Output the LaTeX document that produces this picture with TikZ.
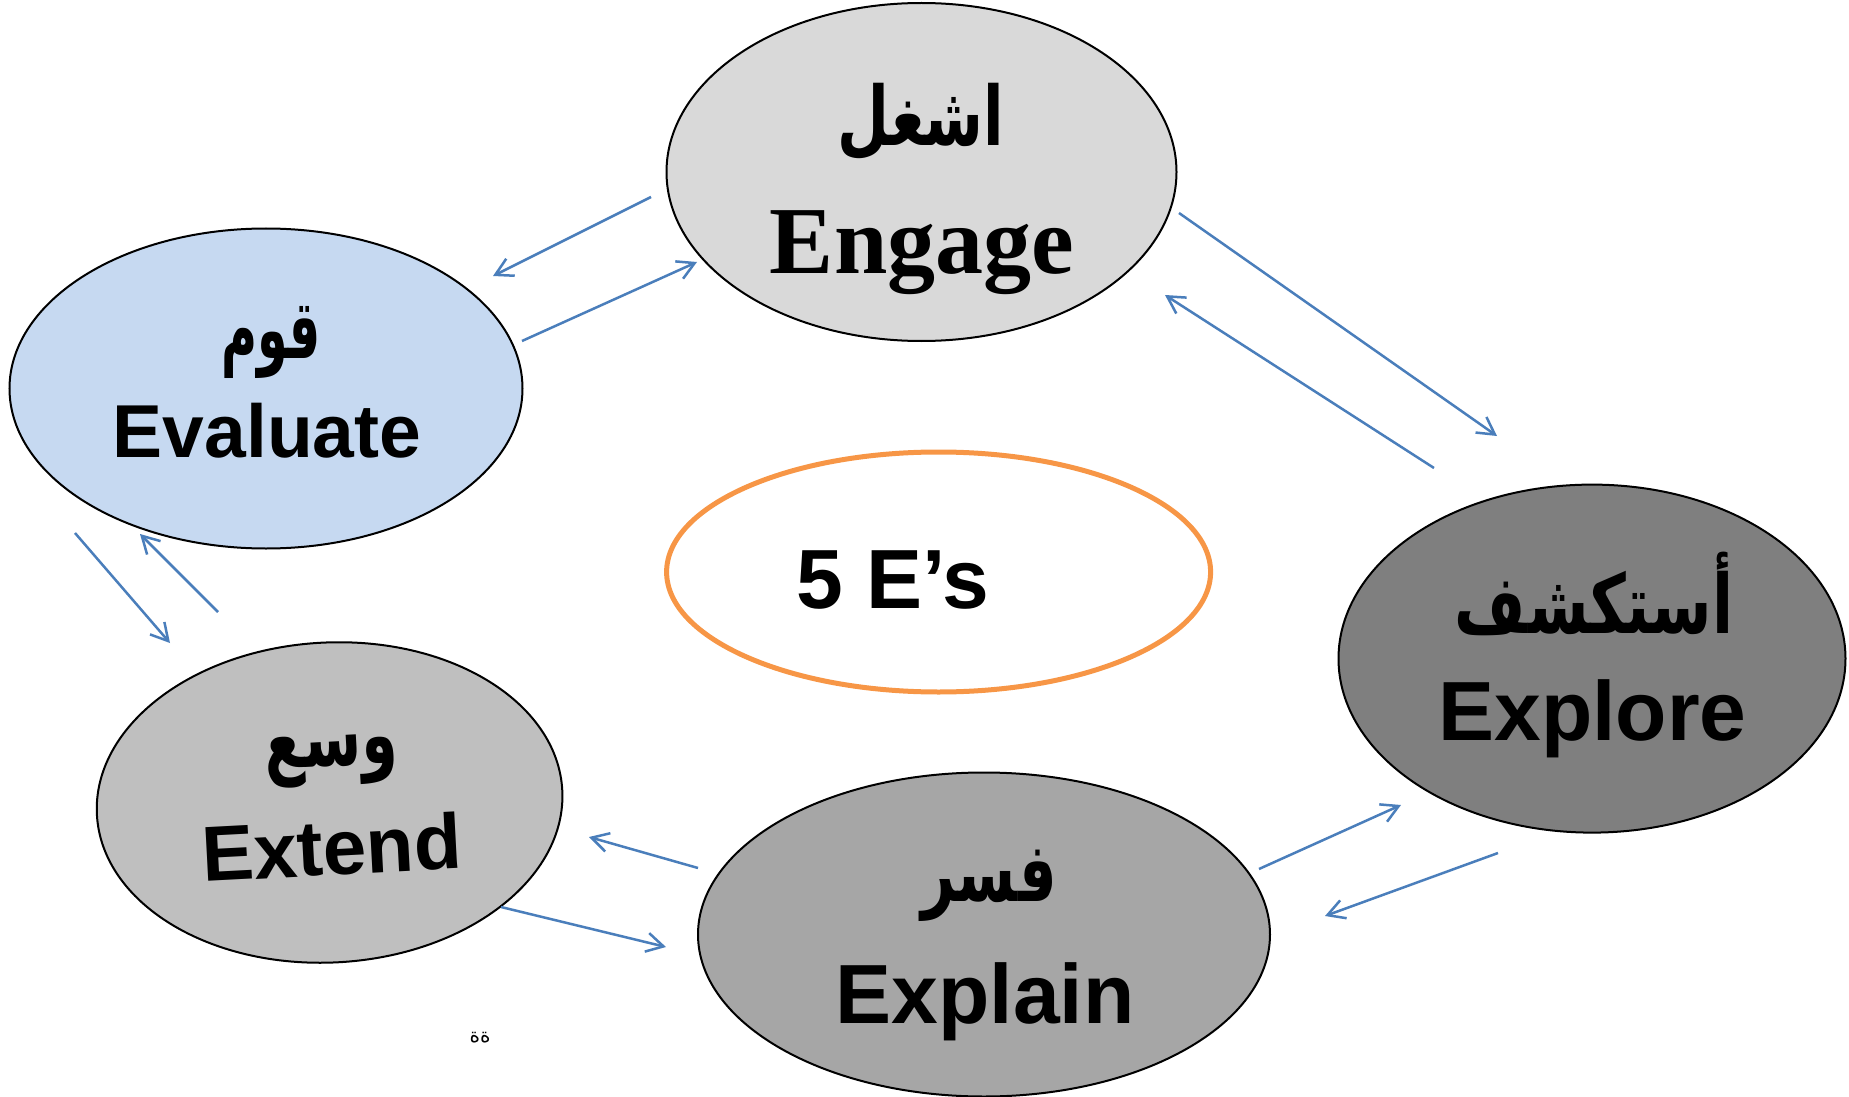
\documentclass[tikz,border=0pt]{standalone}
\usepackage{graphicx}
\usepackage{fontspec}
\setmainfont{Liberation Serif}
\newfontfamily\arialf{Liberation Sans}
\newfontfamily\arabicfont[Script=Arabic]{DejaVu Sans}
\TeXXeTstate=1
\usetikzlibrary{shapes.geometric,arrows.meta}
\definecolor{arrowblue}{RGB}{74,126,187}
\definecolor{cEngage}{HTML}{D9D9D9}
\definecolor{cEval}{HTML}{C6D9F1}
\definecolor{cExplore}{HTML}{7F7F7F}
\definecolor{cExplain}{HTML}{A6A6A6}
\definecolor{cExtend}{HTML}{BFBFBF}
\definecolor{cOrange}{HTML}{F79646}
\newcommand\arword[2]{\scalebox{#1}[1]{\beginR #2\endR}}
\begin{document}
\begin{tikzpicture}[x=0.5pt,y=-0.5pt,
  bub/.style={ellipse,draw=black,line width=1pt,inner sep=0pt},
  conn/.style={draw=arrowblue,line width=1.25pt,-{Straight Barb[length=8.5pt,width=9.5pt]}},
  lat/.style={font=\arialf\bfseries\fontsize{42}{50}\selectfont,anchor=base,inner sep=0pt},
  arb/.style={font=\arabicfont\bfseries\fontsize{41}{48}\selectfont,inner sep=0pt}]
\useasboundingbox (0,0) rectangle (1849,1097);
% ellipses
\node[bub,fill=cEngage,minimum width=255pt,minimum height=169pt] (engage) at (921.5,172) {};
\node[bub,fill=cEval,minimum width=256.5pt,minimum height=160pt] (evaluate) at (266,388.5) {};
\node[bub,fill=cExplore,minimum width=253.5pt,minimum height=174pt] (explore) at (1592,658.6) {};
\node[bub,fill=cExplain,minimum width=286pt,minimum height=162pt] (explain) at (984,934.5) {};
\node[bub,fill=cExtend,minimum width=233pt,minimum height=160pt,rotate=3] (extend) at (329.6,802.5) {};
\node[ellipse,draw=cOrange,line width=2.5pt,fill=white,inner sep=0pt,minimum width=272pt,minimum height=120pt] (center) at (938.6,572) {};
% texts
\node[arb] (aEng) at (921,122) {\arword{0.73}{اشغل}};
\node[lat,font=\rmfamily\bfseries\fontsize{48}{56}\selectfont] (tEng) at (922,273.6) {Engage};
\node[arb] (aEval) at (271,342) {\arword{0.6}{قوم}};
\node[lat,font=\arialf\bfseries\fontsize{37.5}{45}\selectfont] (tEval) at (267,457.5) {Evaluate};
\node[arb] (aExplore) at (1594,594) {\arword{0.75}{أستكشف}};
\node[lat] (tExplore) at (1592.5,740.5) {Explore};
\node[arb] (aExplain) at (989,886) {\arword{0.72}{فسر}};
\node[lat] (tExplain) at (985,1023.5) {Explain};
\node[arb,rotate=3] (aExtend) at (332,760) {\arword{0.71}{وسع}};
\node[lat,font=\arialf\bfseries\fontsize{39}{46}\selectfont,rotate=3] (tExtend) at (333,875) {Extend};
\node[lat] (t5E) at (892.6,608.5) {5 E’s};
\node[font=\arabicfont\fontsize{10}{12}\selectfont,inner sep=0pt] (small) at (480,1038) {\beginR ةة\endR};
% arrow endpoints
\coordinate (a1s) at (651,197);  \coordinate (a1e) at (493,276);
\coordinate (a2s) at (522,341);  \coordinate (a2e) at (697,262);
\coordinate (a3s) at (1179,213); \coordinate (a3e) at (1497,436);
\coordinate (a4s) at (1434,468); \coordinate (a4e) at (1165,295);
\coordinate (a5s) at (1259,869); \coordinate (a5e) at (1401,805);
\coordinate (a6s) at (1498,853); \coordinate (a6e) at (1325,916);
\coordinate (a7s) at (698,868);  \coordinate (a7e) at (589,837);
\coordinate (a8s) at (501,907);  \coordinate (a8e) at (666,947);
\coordinate (a9s) at (75,533);   \coordinate (a9e) at (170,643);
\coordinate (a10s) at (218,612); \coordinate (a10e) at (140,534);
\foreach \i in {1,...,10} {\draw[conn] (a\i s) -- (a\i e);}
\end{tikzpicture}
\end{document}
